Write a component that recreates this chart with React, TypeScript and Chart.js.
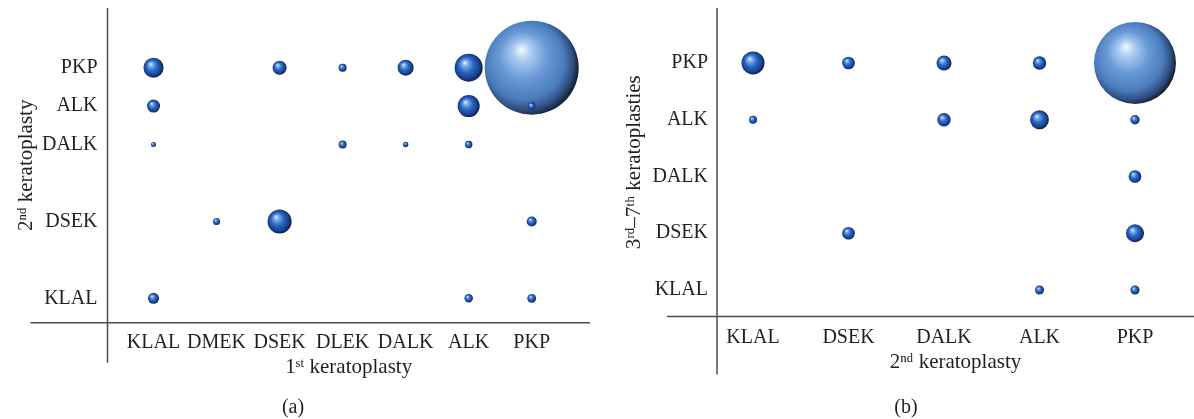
import React, { useEffect, useRef } from 'react';
import { Chart, registerables } from 'chart.js';

Chart.register(...registerables);

// ---------- Panel (a): 1st vs 2nd keratoplasty ----------
const categoriesA = ['KLAL', 'DMEK', 'DSEK', 'DLEK', 'DALK', 'ALK', 'PKP'];
const xTickIndicesA = [0, 1, 2, 3, 4, 5, 6];
const yTickIndicesA = [0, 2, 4, 5, 6];
const firstKeratoplastyA = ['PKP', 'KLAL', 'KLAL', 'KLAL', 'KLAL', 'DMEK', 'DSEK', 'DSEK', 'DLEK', 'DLEK', 'DALK', 'DALK', 'ALK', 'ALK', 'ALK', 'ALK', 'PKP', 'PKP', 'PKP'];
const secondKeratoplastyA = ['PKP', 'PKP', 'ALK', 'DALK', 'KLAL', 'DSEK', 'PKP', 'DSEK', 'PKP', 'DALK', 'PKP', 'DALK', 'PKP', 'ALK', 'DALK', 'KLAL', 'ALK', 'DSEK', 'KLAL'];
const bubbleRadiusA = [47, 10, 6.5, 2.5, 5.5, 3.5, 7, 12, 4, 4, 8, 2.7, 14, 11, 3.7, 4.2, 3.8, 5, 4.4];

// ---------- Panel (b): 2nd vs 3rd–7th keratoplasties ----------
const categoriesB = ['KLAL', 'DSEK', 'DALK', 'ALK', 'PKP'];
const xTickIndicesB = [0, 1, 2, 3, 4];
const yTickIndicesB = [0, 1, 2, 3, 4];
const secondKeratoplastyB = ['PKP', 'KLAL', 'KLAL', 'DSEK', 'DSEK', 'DALK', 'DALK', 'ALK', 'ALK', 'ALK', 'PKP', 'PKP', 'PKP', 'PKP'];
const laterKeratoplastyB = ['PKP', 'PKP', 'ALK', 'PKP', 'DSEK', 'PKP', 'ALK', 'PKP', 'ALK', 'KLAL', 'ALK', 'DALK', 'DSEK', 'KLAL'];
const bubbleRadiusB = [41, 11.5, 4, 6.3, 6.3, 7.5, 6.7, 6.7, 9.4, 4.5, 4.7, 6.3, 9, 4.5];

const FONT = "'Liberation Serif', 'DejaVu Serif', serif";
const TEXT = '#231f20';

function sphereFill(c: any) {
  if (c.type !== 'data') return '#2a63c0';
  const chart = c.chart;
  const raw = c.raw;
  const xs = chart.scales.x;
  const ys = chart.scales.y;
  if (!xs || !ys || !raw) return '#2a63c0';
  const px = xs.getPixelForValue(raw.x);
  const py = ys.getPixelForValue(raw.y);
  const r = raw.r;
  if (!isFinite(px) || !isFinite(py) || !isFinite(r)) return '#2a63c0';
  const ctx = chart.ctx as CanvasRenderingContext2D;
  if (r > 25) {
    const g = ctx.createRadialGradient(px - r * 0.22, py - r * 0.4, 0, px - r * 0.12, py - r * 0.08, r * 1.12);
    g.addColorStop(0, '#f2f9ff');
    g.addColorStop(0.18, '#a9cbf0');
    g.addColorStop(0.45, '#6a9ad6');
    g.addColorStop(0.75, '#4a7cbd');
    g.addColorStop(0.9, '#2f4f80');
    g.addColorStop(1, '#15213a');
    return g;
  }
  const g = ctx.createRadialGradient(px - r * 0.3, py - r * 0.38, r * 0.02, px - r * 0.05, py - r * 0.02, r * 1.05);
  g.addColorStop(0, '#e2f1ff');
  g.addColorStop(0.18, '#79b0ee');
  g.addColorStop(0.5, '#2c66c2');
  g.addColorStop(0.82, '#17418f');
  g.addColorStop(1, '#0a1a42');
  return g;
}

const crossAxes = {
  id: 'crossAxes',
  beforeDatasetsDraw(chart: any, _args: any, opts: any) {
    const { ctx, chartArea } = chart;
    const { left, right, top, bottom } = chartArea;
    ctx.save();
    ctx.strokeStyle = '#4d4d4d';
    ctx.lineWidth = 1.5;
    ctx.beginPath();
    ctx.moveTo(left, top);
    ctx.lineTo(left, bottom + opts.below);
    ctx.moveTo(left - opts.leftExt, bottom);
    ctx.lineTo(right, bottom);
    ctx.stroke();
    ctx.restore();
  },
};

interface PanelCfg {
  cats: string[];
  xTicks: number[];
  yTicks: number[];
  xs: string[];
  ys: string[];
  rs: number[];
  xMin: number; xMax: number; yMin: number; yMax: number;
  yAxisWidth: number; xAxisHeight: number;
  padTop: number; padRight: number;
  yTickPad: number; xTickPad: number;
  yTitle: string; xTitle: string;
  yTitlePad: number; xTitlePadBottom: number;
  below: number; leftExt: number;
}

function buildConfig(p: PanelCfg): any {
  const data = p.xs.map((x, i) => ({ x: p.cats.indexOf(x), y: p.cats.indexOf(p.ys[i]), r: p.rs[i] }));
  return {
    type: 'bubble',
    data: {
      datasets: [{
        data,
        backgroundColor: sphereFill,
        borderWidth: 0,
        hoverBorderWidth: 0,
        clip: false,
      }],
    },
    options: {
      animation: false,
      responsive: false,
      events: [],
      layout: { autoPadding: false, padding: { top: p.padTop, right: p.padRight, left: 0, bottom: 0 } },
      plugins: {
        legend: { display: false },
        tooltip: { enabled: false },
        crossAxes: { below: p.below, leftExt: p.leftExt },
      },
      scales: {
        x: {
          type: 'linear',
          position: 'bottom',
          min: p.xMin,
          max: p.xMax,
          afterBuildTicks: (s: any) => { s.ticks = p.xTicks.map((v) => ({ value: v })); },
          afterFit: (s: any) => {
            s.height = p.xAxisHeight;
            s.paddingLeft = 0; s.paddingRight = 0; s.paddingTop = 0; s.paddingBottom = 0;
          },
          grid: { display: false, drawTicks: false, tickLength: 0 },
          border: { display: false },
          ticks: {
            autoSkip: false,
            maxRotation: 0,
            padding: p.xTickPad,
            color: TEXT,
            font: { family: FONT, size: 20 },
            callback: (v: any) => p.cats[Math.round(Number(v))],
          },
          title: {
            display: true,
            text: p.xTitle,
            color: TEXT,
            font: { family: FONT, size: 21 },
            padding: { top: 0, bottom: p.xTitlePadBottom },
          },
        },
        y: {
          type: 'linear',
          position: 'left',
          min: p.yMin,
          max: p.yMax,
          afterBuildTicks: (s: any) => { s.ticks = p.yTicks.map((v) => ({ value: v })); },
          afterFit: (s: any) => {
            s.width = p.yAxisWidth;
            s.paddingLeft = 0; s.paddingRight = 0; s.paddingTop = 0; s.paddingBottom = 0;
          },
          grid: { display: false, drawTicks: false, tickLength: 0 },
          border: { display: false },
          ticks: {
            autoSkip: false,
            padding: p.yTickPad,
            color: TEXT,
            font: { family: FONT, size: 20 },
            callback: (v: any) => p.cats[Math.round(Number(v))],
          },
          title: {
            display: true,
            text: p.yTitle,
            color: TEXT,
            font: { family: FONT, size: 21 },
            padding: { top: p.yTitlePad, bottom: 0 },
          },
        },
      },
    },
    plugins: [crossAxes],
  };
}

const panelA: PanelCfg = {
  cats: categoriesA,
  xTicks: xTickIndicesA,
  yTicks: yTickIndicesA,
  xs: firstKeratoplastyA,
  ys: secondKeratoplastyA,
  rs: bubbleRadiusA,
  xMin: -0.73, xMax: 6.925, yMin: -0.635, yMax: 7.553,
  yAxisWidth: 107.5, xAxisHeight: 96.3,
  padTop: 8, padRight: 7,
  yTickPad: 10, xTickPad: 8,
  yTitle: '2ⁿᵈ keratoplasty', xTitle: '1ˢᵗ keratoplasty',
  yTitlePad: 14, xTitlePadBottom: 39,
  below: 40, leftExt: 77,
};

const panelB: PanelCfg = {
  cats: categoriesB,
  xTicks: xTickIndicesB,
  yTicks: yTickIndicesB,
  xs: secondKeratoplastyB,
  ys: laterKeratoplastyB,
  rs: bubbleRadiusB,
  xMin: -0.377, xMax: 4.618, yMin: -0.467, yMax: 4.969,
  yAxisWidth: 120, xAxisHeight: 102.5,
  padTop: 8, padRight: 0,
  yTickPad: 9, xTickPad: 9,
  yTitle: '3ʳᵈ–7ᵗʰ keratoplasties', xTitle: '2ⁿᵈ keratoplasty',
  yTitlePad: 25, xTitlePadBottom: 44,
  below: 58, leftExt: 50,
};

function Panel({ cfg, left, width }: { cfg: PanelCfg; left: number; width: number }) {
  const ref = useRef<HTMLCanvasElement | null>(null);
  useEffect(() => {
    if (!ref.current) return;
    const chart = new Chart(ref.current, buildConfig(cfg));
    return () => chart.destroy();
  }, [cfg]);
  return (
    <canvas
      ref={ref}
      width={width}
      height={419}
      style={{ position: 'absolute', left, top: 0, width, height: 419 }}
    />
  );
}

export default function App() {
  useEffect(() => {
    document.body.style.margin = '0';
    document.body.style.overflow = 'hidden';
  }, []);
  const caption: React.CSSProperties = {
    position: 'absolute',
    top: 394,
    width: 100,
    textAlign: 'center',
    fontFamily: FONT,
    fontSize: 20,
    lineHeight: '24px',
    color: TEXT,
  };
  return (
    <div style={{ position: 'relative', width: 1194, height: 419, background: '#ffffff', overflow: 'hidden' }}>
      <Panel cfg={panelA} left={0} width={597} />
      <Panel cfg={panelB} left={597} width={597} />
      <div style={{ ...caption, left: 293 - 50 }}>(a)</div>
      <div style={{ ...caption, left: 906 - 50 }}>(b)</div>
    </div>
  );
}
